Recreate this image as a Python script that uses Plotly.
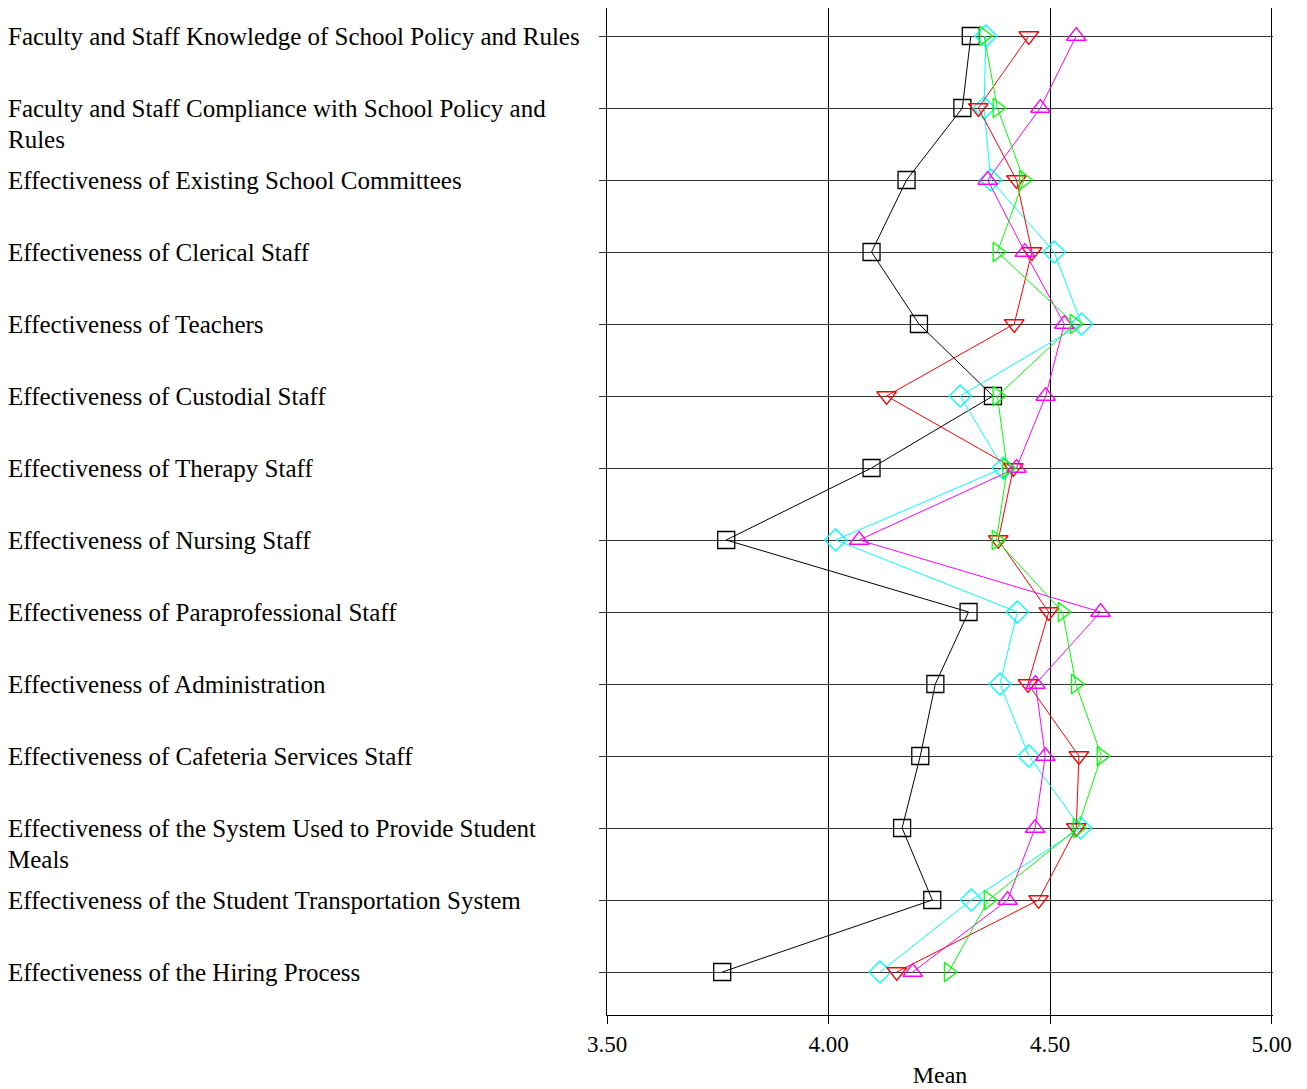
import plotly.graph_objects as go

items = [
    "Faculty and Staff Knowledge of School Policy and Rules",
    "Faculty and Staff Compliance with School Policy and<br>Rules",
    "Effectiveness of Existing School Committees",
    "Effectiveness of Clerical Staff",
    "Effectiveness of Teachers",
    "Effectiveness of Custodial Staff",
    "Effectiveness of Therapy Staff",
    "Effectiveness of Nursing Staff",
    "Effectiveness of Paraprofessional Staff",
    "Effectiveness of Administration",
    "Effectiveness of Cafeteria Services Staff",
    "Effectiveness of the System Used to Provide Student<br>Meals",
    "Effectiveness of the Student Transportation System",
    "Effectiveness of the Hiring Process",
]

# one list of means per group
black_sq = [4.321, 4.302, 4.176, 4.097, 4.204, 4.371, 4.097, 3.769, 4.316, 4.241, 4.207, 4.166, 4.234, 3.760]
cyan_dia = [4.355, 4.351, 4.366, 4.509, 4.571, 4.297, 4.394, 4.016, 4.426, 4.387, 4.452, 4.569, 4.322, 4.116]
red_down = [4.452, 4.338, 4.424, 4.459, 4.419, 4.131, 4.417, 4.383, 4.497, 4.450, 4.565, 4.559, 4.474, 4.154]
magenta_up = [4.559, 4.478, 4.359, 4.443, 4.532, 4.490, 4.424, 4.069, 4.614, 4.467, 4.489, 4.466, 4.404, 4.190]
green_right = [4.351, 4.381, 4.441, 4.381, 4.555, 4.381, 4.403, 4.379, 4.528, 4.558, 4.616, 4.562, 4.361, 4.271]

x_ticks = [3.5, 4.0, 4.5, 5.0]

series = [
    (black_sq, "#000000", "square-open"),
    (cyan_dia, "#00FFFF", "diamond-open"),
    (red_down, "#FF0000", "triangle-down-open"),
    (magenta_up, "#FF00FF", "triangle-up-open"),
    (green_right, "#00FF00", "triangle-right-open"),
]

FONT = "Liberation Serif"
rows = list(range(len(items)))

fig = go.Figure()
for vals, color, symbol in series:
    fig.add_trace(
        go.Scatter(
            x=vals,
            y=rows,
            mode="lines+markers",
            line=dict(color=color, width=1),
            marker=dict(symbol=symbol, size=17, color=color, line=dict(color=color, width=1.3)),
            showlegend=False,
        )
    )

# left-aligned category labels
for i, label in enumerate(items):
    for k, part in enumerate(label.split("<br>")):
        fig.add_annotation(
            x=-0.902, xref="paper", xanchor="left",
            y=i, yref="y", yanchor="middle",
            yshift=-31 * k,
            text=part, showarrow=False,
            font=dict(family=FONT, size=25, color="#000000"),
        )

fig.update_xaxes(
    range=[3.5, 5.003],
    tickvals=x_ticks,
    tickformat=".2f",
    showgrid=True, gridcolor="#000000", gridwidth=1,
    showline=True, linecolor="#000000", linewidth=1,
    ticks="outside", ticklen=8, tickcolor="#000000",
    tickfont=dict(family=FONT, size=23, color="#000000"),
    title=dict(text="Mean", font=dict(family=FONT, size=24, color="#000000"), standoff=10),
    zeroline=False,
)
fig.update_yaxes(
    range=[13.597, -0.389],
    tickvals=rows,
    showticklabels=False,
    showgrid=True, gridcolor="#333333", gridwidth=1,
    showline=True, linecolor="#000000", linewidth=1,
    ticks="outside", ticklen=7, tickcolor="#333333",
    zeroline=False,
)

fig.update_layout(
    width=1299, height=1081,
    margin=dict(l=599, r=34, t=0, b=74),
    plot_bgcolor="#FFFFFF", paper_bgcolor="#FFFFFF",
)

fig.write_html("out.html")
